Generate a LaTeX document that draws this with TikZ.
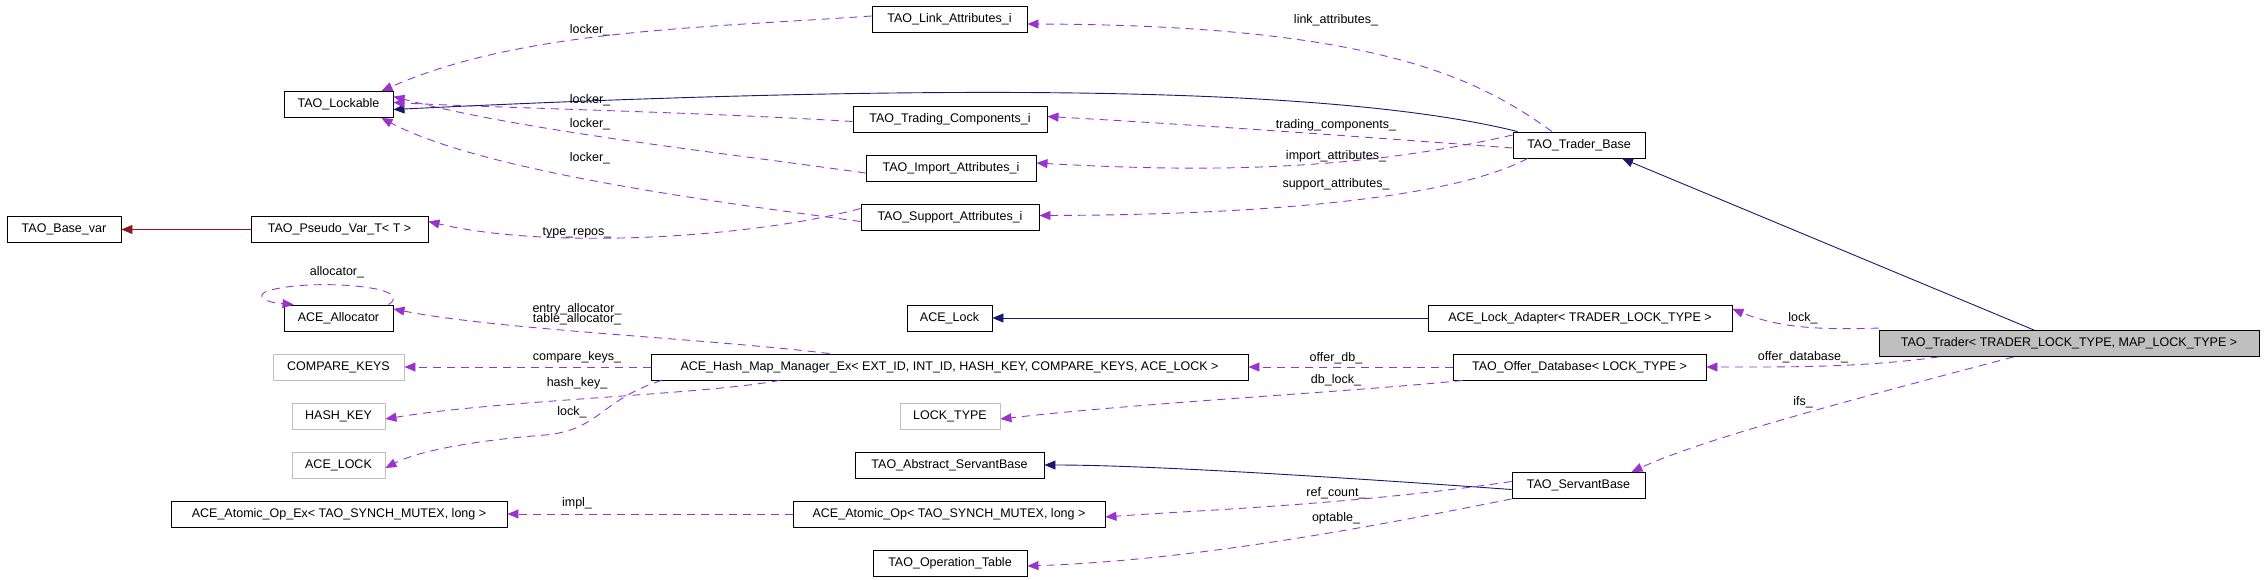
\documentclass[tikz,border=0pt]{standalone}
\usepackage{fontspec}
\setmainfont{Liberation Sans}
\usetikzlibrary{arrows.meta,calc}
\definecolor{dep}{HTML}{9A32CD}
\definecolor{inh}{HTML}{191970}
\definecolor{tpl}{HTML}{8B1A1A}
\begin{document}
\begin{tikzpicture}[x=1pt,y=-1pt,
  box/.style={draw=black,line width=0.9pt,minimum height=26pt,inner sep=0pt,font=\fontsize{12.5}{14}\selectfont},
  gbox/.style={box,draw=black!25},
  dep/.style={draw=dep,dash pattern=on 8pt off 6pt,line width=0.9pt,-{Triangle[length=11pt,width=9pt]},color=dep},
  inh/.style={draw=inh,line width=0.9pt,-{Triangle[length=11pt,width=9pt]},color=inh},
  tpl/.style={draw=tpl,line width=0.9pt,-{Triangle[length=11pt,width=9pt]},color=tpl},
  lbl/.style={font=\fontsize{12.5}{13}\selectfont,inner sep=1pt,align=center,text=black}]
\useasboundingbox (0,0) rectangle (2264,580);
\node[box,minimum width=155pt] (link) at (949.5,19) {TAO\_Link\_Attributes\_i};
\node[box,minimum width=109pt] (lockable) at (338.5,104.5) {TAO\_Lockable};
\node[box,minimum width=194pt] (trading) at (950,119.5) {TAO\_Trading\_Components\_i};
\node[box,minimum width=170pt] (import) at (951,168) {TAO\_Import\_Attributes\_i};
\node[box,minimum width=178pt] (support) at (950,217.5) {TAO\_Support\_Attributes\_i};
\node[box,minimum width=114pt] (basevar) at (64,229.5) {TAO\_Base\_var};
\node[box,minimum width=177pt] (pseudo) at (339.5,229.5) {TAO\_Pseudo\_Var\_T< T >};
\node[box,minimum width=132pt] (tb) at (1579,145) {TAO\_Trader\_Base};
\node[box,minimum width=109pt] (alloc) at (338.5,318) {ACE\_Allocator};
\node[box,minimum width=85pt] (acelock) at (949.5,318) {ACE\_Lock};
\node[box,minimum width=304pt] (adapter) at (1580,318) {ACE\_Lock\_Adapter< TRADER\_LOCK\_TYPE >};
\node[box,fill=black!25,minimum width=380pt] (trader) at (2069,343.5) {TAO\_Trader< TRADER\_LOCK\_TYPE, MAP\_LOCK\_TYPE >};
\node[gbox,minimum width=131pt] (compare) at (338.5,367) {COMPARE\_KEYS};
\node[box,minimum width=597pt] (hash) at (949.5,367) {ACE\_Hash\_Map\_Manager\_Ex< EXT\_ID, INT\_ID, HASH\_KEY, COMPARE\_KEYS, ACE\_LOCK >};
\node[box,minimum width=253pt] (offer) at (1579.5,367) {TAO\_Offer\_Database< LOCK\_TYPE >};
\node[gbox,minimum width=93pt] (hashkey) at (338.5,416) {HASH\_KEY};
\node[gbox,minimum width=100pt] (locktype) at (950,416) {LOCK\_TYPE};
\node[gbox,minimum width=93pt] (acelockc) at (338.5,465) {ACE\_LOCK};
\node[box,minimum width=189pt] (abstract) at (949.5,465) {TAO\_Abstract\_ServantBase};
\node[box,minimum width=133pt] (servant) at (1578.5,485.5) {TAO\_ServantBase};
\node[box,minimum width=336pt] (atomicex) at (339,514) {ACE\_Atomic\_Op\_Ex< TAO\_SYNCH\_MUTEX, long >};
\node[box,minimum width=312pt] (atomic) at (949,514) {ACE\_Atomic\_Op< TAO\_SYNCH\_MUTEX, long >};
\node[box,minimum width=154pt] (optable) at (950,563) {TAO\_Operation\_Table};

% to Lockable
\draw[dep] ([yshift=3pt]link.west) .. controls (700,28) and (520,30) .. ([xshift=-12pt]lockable.north east);
\draw[inh] ([xshift=5pt]tb.north west) .. controls (1350,90) and (1000,80) .. ([yshift=-5pt]lockable.east);
\draw[dep] ([yshift=-2pt]trading.west) .. controls (700,112) and (500,108) .. ([yshift=2pt]lockable.east);
\draw[dep] ([yshift=-5pt]import.west) .. controls (700,150) and (520,130) .. ([yshift=8pt]lockable.east);
\draw[dep] ([yshift=-4pt]support.west) .. controls (700,200) and (480,170) .. ([xshift=-12pt]lockable.south east);
\node[lbl] at (590,30) {locker\_};
\node[lbl] at (590,100) {locker\_};
\node[lbl] at (590,124) {locker\_};
\node[lbl] at (590,158) {locker\_};
% from Trader_Base
\draw[dep] ([xshift=-27pt]tb.north) .. controls (1480,80) and (1380,25) .. ([yshift=-5pt]link.east);
\draw[dep] ([yshift=-3pt]tb.west) .. controls (1350,136) and (1200,125) .. ([yshift=3pt]trading.east);
\draw[dep] ([yshift=10pt]tb.west) .. controls (1350,172) and (1200,172) .. ([yshift=5pt]import.east);
\draw[dep] ([xshift=15pt]tb.south west) .. controls (1450,200) and (1250,215) .. ([yshift=2pt]support.east);
\node[lbl] at (1336,125) {trading\_components\_};
\node[lbl] at (1336,156) {import\_attributes\_};
\node[lbl] at (1336,184) {support\_attributes\_};
\node[lbl] at (1336,20) {link\_attributes\_};
% Pseudo
\draw[tpl] (pseudo.west) -- (basevar.east);
\draw[dep] ([yshift=9pt]support.west) .. controls (750,238) and (550,250) .. ([yshift=8pt]pseudo.east);
\node[lbl] at (577,233) {type\_repos\_};
% Allocator loop
\draw[dep] ([xshift=-5pt]alloc.north east) .. controls (420,285) and (300,278) .. (265,292) .. controls (258,296) and (262,302) .. ([xshift=10pt]alloc.north west);
\node[lbl] at (337,272) {allocator\_};
% Hash
\draw[dep] ([xshift=-120pt]hash.north) .. controls (700,338) and (500,330) .. ([yshift=9pt]alloc.east);
\node[lbl] at (577,314) {entry\_allocator\_\\[-3pt]table\_allocator\_};
\draw[dep] (hash.west) -- (compare.east);
\node[lbl] at (577,357) {compare\_keys\_};
\draw[dep] ([xshift=-170pt]hash.south) .. controls (700,395) and (500,400) .. ([yshift=-3pt]hashkey.east);
\node[lbl] at (577,383) {hash\_key\_};
\draw[dep] ([xshift=-288pt]hash.south) .. controls (600,400) and (600,430) .. (545,435) .. controls (480,440) and (420,450) .. ([yshift=-3pt]acelockc.east);
\node[lbl] at (572,412) {lock\_};
% ACE_Lock
\draw[inh] (adapter.west) -- (acelock.east);
% Offer DB
\draw[dep] (offer.west) -- (hash.east);
\node[lbl] at (1336,358) {offer\_db\_};
\draw[dep] ([xshift=10pt]offer.south west) .. controls (1350,392) and (1150,402) .. ([yshift=-3pt]locktype.east);
\node[lbl] at (1336,380) {db\_lock\_};
% ServantBase
\draw[inh] ([yshift=-4pt]servant.west) .. controls (1350,478) and (1150,465) .. (abstract.east);
\draw[dep] ([yshift=4pt]servant.west) .. controls (1350,505) and (1200,510) .. ([yshift=-3pt]atomic.east);
\node[lbl] at (1336,493) {ref\_count\_};
\draw[dep] (servant.south west) .. controls (1380,525) and (1200,560) .. ([yshift=-3pt]optable.east);
\node[lbl] at (1336,518) {optable\_};
\draw[dep] (atomic.west) -- (atomicex.east);
\node[lbl] at (577,503) {impl\_};
% Trader
\draw[inh] ([xshift=-35pt]trader.north) -- ([xshift=43pt]tb.south);
\draw[dep] ([yshift=2pt]trader.north west) .. controls (1820,330) and (1780,328) .. ([yshift=9pt]adapter.east);
\node[lbl] at (1803,318) {lock\_};
\draw[dep] ([xshift=60pt]trader.south west) .. controls (1860,368) and (1780,367) .. (offer.east);
\node[lbl] at (1803,357) {offer\_database\_};
\draw[dep] ([xshift=135pt]trader.south west) .. controls (1850,400) and (1700,440) .. ([xshift=53pt]servant.north);
\node[lbl] at (1803,402) {ifs\_};
\end{tikzpicture}
\end{document}
